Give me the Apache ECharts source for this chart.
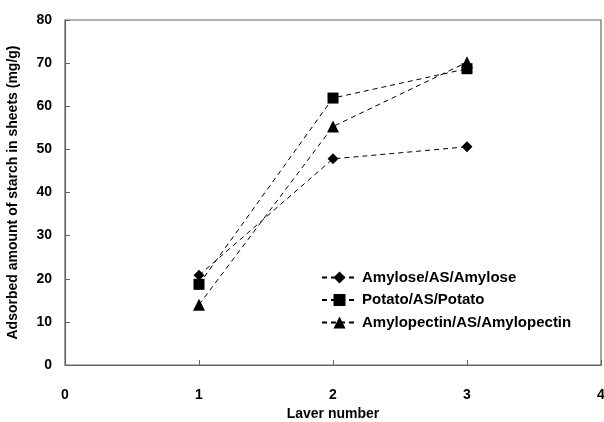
<!DOCTYPE html>
<html><head><meta charset="utf-8">
<script src="https://cdn.jsdelivr.net/npm/echarts@6/dist/echarts.min.js"></script>
<style>html,body{margin:0;padding:0;background:#fff}#c{width:604px;height:422px}</style>
</head><body><div id="c"></div>
<script>
var layers = [1, 2, 3];
var seriesNames = ['Amylose/AS/Amylose', 'Potato/AS/Potato', 'Amylopectin/AS/Amylopectin'];
var amylose = [20.8, 47.8, 50.6];
var potato = [18.7, 61.9, 68.7];
var amylopectin = [14.0, 55.3, 70.2];
var symbols = ['diamond', 'rect', 'triangle'];
var symbolSizes = [11, 11, 12];

var allValues = [amylose, potato, amylopectin];
var font = '"Liberation Sans", Arial, sans-serif';
var chart = echarts.init(document.getElementById('c'), null, {renderer: 'canvas'});
var series = allValues.map(function (vals, i) {
  return {
    name: seriesNames[i],
    type: 'line',
    data: layers.map(function (x, j) { return [x, vals[j]]; }),
    symbol: symbols[i],
    symbolSize: symbolSizes[i],
    lineStyle: {color: '#000', width: 1, type: [5, 4]},
    itemStyle: {color: '#000'},
    animation: false
  };
});
chart.setOption({
  backgroundColor: '#fff',
  animation: false,
  grid: {left: 65, right: 3, top: 20, bottom: 57, show: true, borderColor: '#666', borderWidth: 1.2,
         containLabel: false, outerBoundsMode: 'none'},
  legend: {
    data: seriesNames,
    orient: 'vertical',
    left: 316, top: 265,
    itemGap: 7.5,
    itemWidth: 35, itemHeight: 15,
    textStyle: {fontFamily: font, fontWeight: 'bold', fontSize: 15, color: '#000'}
  },
  xAxis: {
    type: 'value', min: 0, max: 4, interval: 1,
    name: 'Laver number', nameLocation: 'middle', nameGap: 42,
    nameTextStyle: {fontFamily: font, fontWeight: 'bold', fontSize: 14, color: '#000'},
    axisLine: {lineStyle: {color: '#666', width: 1.2}},
    axisTick: {inside: true, length: 5, lineStyle: {color: '#666'}},
    axisLabel: {fontFamily: font, fontWeight: 'bold', fontSize: 14, color: '#000', margin: 23},
    splitLine: {show: false}
  },
  yAxis: {
    type: 'value', min: 0, max: 80, interval: 10,
    name: 'Adsorbed amount of starch in sheets (mg/g)', nameLocation: 'middle', nameGap: 45,
    nameTextStyle: {fontFamily: font, fontWeight: 'bold', fontSize: 14, color: '#000'},
    axisLine: {show: true, lineStyle: {color: '#666', width: 1.2}},
    axisTick: {show: true, inside: true, length: 5, lineStyle: {color: '#666'}},
    axisLabel: {fontFamily: font, fontWeight: 'bold', fontSize: 14, color: '#000', margin: 13},
    splitLine: {show: false}
  },
  series: series
});
</script></body></html>
